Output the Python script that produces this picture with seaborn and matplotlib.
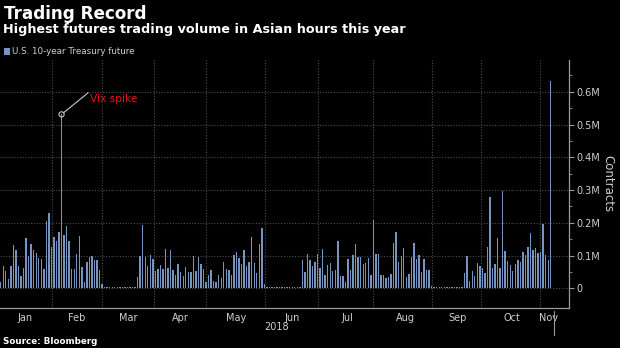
import matplotlib
matplotlib.use("Agg")
import matplotlib.pyplot as plt
import matplotlib.ticker as mticker
from matplotlib.patches import Patch
import seaborn as sns
import pandas as pd

# ---------------- data (thousands of contracts, one value per trading day) ----------------
volume_k = [
    18, 68, 53, 30, 67, 133, 117, 68, 38, 61, 154, 99, 136, 116, 107, 94, 90, 58, 207, 230, 126,
    158, 144, 171, 531, 162, 190, 146, 59, 60, 106, 161, 65, 20, 81, 96, 100, 87, 85, 56,
    13, 4, 4, 3, 3, 3, 3, 3, 3, 3, 3, 3, 3, 3,
    34, 100, 194, 95, 68, 102, 89, 53, 59, 72, 58, 119, 61, 116, 55, 42, 73, 50, 38, 64,
    50, 50, 100, 52, 96, 73, 60, 20, 40, 55, 23, 18, 41, 33, 80, 60,
    55, 40, 101, 112, 92, 74, 118, 67, 81, 157, 78, 47, 136, 185, 13, 4, 3,
    3, 3, 3, 3, 3, 3, 3, 3, 3, 3, 3, 3,
    88, 50, 105, 87, 67, 80, 104, 63, 119, 41, 71, 78, 53, 55, 145, 39,
    38, 19, 90, 56, 101, 135, 96, 96, 74, 78, 94, 42, 209, 105, 105, 41, 41, 31, 35, 44,
    138, 172, 80, 99, 123, 36, 45, 97, 138, 89, 101, 51, 90, 57, 56, 8,
    3, 3, 3, 3, 3, 3, 3, 3, 3, 3, 3, 3,
    47, 99, 21, 52, 39, 78, 68, 62, 46, 126, 278, 62, 73, 154, 61, 298, 115, 82, 70, 54,
    74, 88, 79, 111, 102, 126, 168, 117, 122, 108, 111, 195, 102, 88, 633,
]
day_index = list(range(len(volume_k)))
series_name = "U.S. 10-year Treasury future"
month_labels = ["Jan", "Feb", "Mar", "Apr", "May", "Jun", "Jul", "Aug", "Sep", "Oct", "Nov"]
month_label_pos = [9.6, 30.1, 50.2, 70.7, 92.8, 114.9, 136.6, 159.5, 180.4, 201.7, 215.9]
month_boundaries = [20.1, 39.8, 60.3, 81.1, 104.1, 125.1, 147.0, 170.3, 189.5, 212.6]
spike_day = 24
year_label = "2018"

df = pd.DataFrame({"day": day_index, "volume": volume_k})

# ---------------- style ----------------
BG = "#000000"
BAR = "#7694c0"
GRID = "#4d4d4d"
AXIS = "#9a9a9a"
TXT = "#cfcfcf"

sns.set_theme(style="dark", rc={
    "figure.facecolor": BG, "axes.facecolor": BG, "savefig.facecolor": BG,
    "axes.edgecolor": AXIS, "text.color": TXT, "xtick.color": AXIS, "ytick.color": AXIS,
})
plt.rcParams["font.family"] = ["DejaVu Sans"]

fig = plt.figure(figsize=(6.2, 3.48), dpi=100)
ax = fig.add_axes([0.0, 40 / 348, 569.3 / 620, 248 / 348])

sns.barplot(data=df, x="day", y="volume", native_scale=True, color=BAR, saturation=1,
            width=0.55, errorbar=None, linewidth=0, ax=ax)

ax.set_xlim(-0.28, 224.3)
ax.set_ylim(-60, 697)
ax.set_xlabel("")
ax.set_ylabel("")

# x axis
ax.xaxis.set_major_locator(mticker.FixedLocator(month_boundaries))
ax.xaxis.set_major_formatter(mticker.NullFormatter())
ax.xaxis.set_minor_locator(mticker.FixedLocator(month_label_pos))
ax.xaxis.set_minor_formatter(mticker.FixedFormatter(month_labels))
ax.tick_params(axis="x", which="major", length=3, width=0.8, color=AXIS, direction="out")
ax.tick_params(axis="x", which="minor", length=0, labelsize=7, labelcolor=TXT, pad=3.5)

# y axis on right
ax.yaxis.tick_right()
ax.yaxis.set_label_position("right")
ax.yaxis.set_major_locator(mticker.FixedLocator([0, 100, 200, 300, 400, 500, 600]))
ax.yaxis.set_minor_locator(mticker.FixedLocator([50, 150, 250, 350, 450, 550, 650]))
ax.yaxis.set_major_formatter(mticker.FuncFormatter(lambda v, p: "0" if v == 0 else f"{v/1000:.1f}M"))
ax.tick_params(axis="y", which="major", length=3.5, width=0.8, color=AXIS, labelsize=7,
               labelcolor=TXT, pad=1.5, left=False, right=True)
ax.tick_params(axis="y", which="minor", length=2, width=0.6, color=AXIS, left=False, right=True)
ax.set_ylabel("Contracts", rotation=270, fontsize=8.5, color=TXT, labelpad=10)

ax.grid(True, which="major", axis="both", color=GRID, linestyle=(0, (1, 1.5)), linewidth=0.8)
ax.grid(False, which="minor")
ax.set_axisbelow(True)

for s in ["left", "top"]:
    ax.spines[s].set_visible(False)
for s in ["right", "bottom"]:
    ax.spines[s].set_visible(True)
    ax.spines[s].set_color(AXIS)
    ax.spines[s].set_linewidth(0.9)

# end-of-data marker below axis
trans = matplotlib.transforms.blended_transform_factory(ax.transData, ax.transAxes)
ax.plot([218.4, 218.4], [-0.012, -0.11], transform=trans, color=AXIS, lw=0.8, clip_on=False)

# annotation
sx, sy = day_index[spike_day], volume_k[spike_day]
ax.scatter([sx], [sy], s=14, facecolors="none", edgecolors="#c8c8c8", linewidths=0.8, zorder=5)
ax.annotate("", xy=(sx, sy), xytext=(19.2, 15.6), textcoords="offset points",
            arrowprops=dict(arrowstyle="-", color="#c8c8c8", lw=0.8, shrinkA=0, shrinkB=2))
ax.annotate("Vix spike", xy=(sx, sy), xytext=(20.5, 11.3), textcoords="offset points",
            color="#e3141c", fontsize=7.7, ha="left", va="center")

# titles, legend, source
fig.text(4 / 620, 1 - 19.3 / 348, "Trading Record", fontsize=12.1, fontweight="bold",
         color="white", ha="left", va="baseline")
fig.text(3 / 620, 1 - 33.3 / 348, "Highest futures trading volume in Asian hours this year",
         fontsize=9.2, fontweight="bold", color="white", ha="left", va="baseline")
leg = ax.legend(handles=[Patch(facecolor=BAR, edgecolor="none", label=series_name)],
                loc="center left", bbox_to_anchor=(4 / 620, 1 - 52 / 348),
                bbox_transform=fig.transFigure, frameon=False, fontsize=6.3,
                handlelength=0.7, handleheight=0.7, handletextpad=0.25,
                borderpad=0, borderaxespad=0, labelcolor=TXT)
fig.text(277 / 620, 1 - 327 / 348, year_label, fontsize=7, color=TXT, ha="center", va="center")
fig.text(3 / 620, 1 - 342 / 348, "Source: Bloomberg", fontsize=6.3, fontweight="bold",
         color="white", ha="left", va="center")

fig.savefig("out.png", dpi=100, facecolor=BG)
